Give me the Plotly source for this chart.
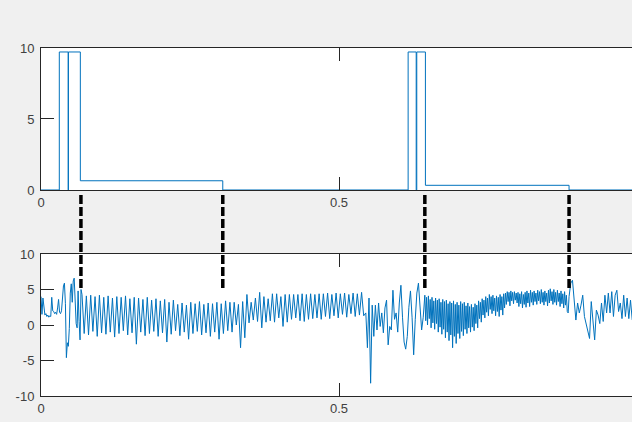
import numpy as np
import plotly.graph_objects as go

# top panel: stimulus (step signal)
stim_t = [0, 0.0307, 0.0456, 0.0460, 0.066, 0.305, 0.616, 0.6295, 0.6305, 0.645, 0.886, 0.992]
stim_v = [0, 9.72, 0, 9.72, 0.65, 0, 9.72, 0, 9.72, 0.33, 0, 0]

# times of the dashed event markers
event_t = [0.067, 0.305, 0.644, 0.886]
event_low = 5.2  # where the markers stop in the lower panel

# tick labels (MATLAB style, plain hyphen minus)
x_ticks = [0, 0.5]
x_labels = ['0', '0.5']
top_yticks = [0, 5, 10]
bot_yticks = [-10, -5, 0, 5, 10]
bot_ylabels = ['-10', '-5', '0', '5', '10']

seg_edges = [0, 0.0688, 0.317, 0.545, 0.644, 0.886, 0.992]

seg_a = [4.0, 1.5, 3.8, 2.5, 1.4, 1.6, 1.2, 1.4, 1.1, 1.3, 1.2, 3.9, 2.0, 1.9,
         1.6, 1.8, 1.5, 2.4, 3.6, 1.8, 1.6, 2.0, 4.8, 5.5, 5.9, 3.0, -4.6, -2.5,
         -3.0, -0.5, 4.5, 5.8, 3.2, 6.2, 6.6, 2.0, 0.2, -0.4, 4.8, 0.5, -2.1, 5.0]

seg_b = [4.3, -1.2, 4.1, -1.4, 4.2, -0.9, 4.0, -1.6, 4.2, -1.1, 3.9, -1.3,
         4.1, -1.0, 3.8, -1.7, 4.0, -1.2, 3.9, -0.8, 4.1, -1.4, 3.7, -1.1,
         3.9, -2.7, 3.8, -1.0, 3.6, -1.5, 3.9, -1.2, 3.5, -0.9, 3.7, -1.6,
         3.4, -1.1, 3.6, -2.4, 3.2, -1.3, 3.5, -0.8, 2.9, -1.5, 3.1, -1.0,
         2.8, -2.0, 3.2, -1.2, 3.0, -0.9, 3.3, -1.4, 2.9, -1.1, 3.1, -1.6,
         3.0, -1.0, 3.2, -2.0, 3.0, -1.2, 3.4, -0.8]

seg_c = [3.2, -1.0, 3.2, 0.0, 2.9, -3.2, 3.3, -1.8, 4.3, 0.3, 3.2, 0.7,
         3.8, 0.5, 4.6, -0.4, 4.0, 0.4, 3.7, 0.6, 4.4, 0.4, 4.4, 1.0,
         4.0, -0.2, 4.3, 0.4, 4.3, 0.8, 4.3, 1.0, 4.3, 0.6, 4.4, 0.5,
         4.3, 0.8, 4.4, 0.9, 4.3, 1.0, 4.4, 0.8, 4.4, 1.2, 4.5, 0.9,
         4.3, 1.3, 4.5, 1.0, 4.4, 1.5, 4.5, 1.1, 4.3, 1.6, 4.5, 1.2,
         4.4, 1.4, 4.6, 1.3]

seg_d = [1.7, -3.2, 3.8, -8.2, 2.8, -1.6, 2.8, -0.7, 3.1, -0.2, 1.7, -1.1,
         2.4, 3.5, -2.8, -0.2, -0.7, 4.9, 0.8, 1.7, -1.0, 3.1, 5.6, 1.1,
         -2.4, -3.4, -1.6, 2.5, 4.8, 1.1, -4.2, 0.8, 4.5, 5.9, 2.1, -0.7, 1.1]

seg_e = [4.2, 0.6, 3.9, 0.0, 4.1, 0.9, 3.6, -0.4, 3.9, 0.3, 3.4, -0.6,
         3.8, 0.2, 3.5, -1.0, 3.7, -0.3, 3.2, -1.3, 3.6, -0.6, 3.3, -1.8,
         3.5, -1.0, 3.0, -2.2, 3.3, -1.4, 3.1, -3.2, 3.4, -1.6, 2.9, -2.6,
         3.2, -1.2, 2.8, -1.9, 3.3, -0.9, 3.0, -1.5, 3.2, -0.6, 2.7, -1.2,
         3.1, -0.4, 2.6, -1.0, 2.9, -0.3, 2.5, -0.8, 3.0, 0.2, 2.8, -0.4,
         3.4, 0.9, 3.2, 0.4, 3.7, 1.4, 3.5, 1.0, 4.0, 1.8, 3.8, 1.3,
         4.3, 2.2, 4.0, 1.6, 4.2, 2.0, 3.8, 1.3, 4.1, 1.9, 3.9, 1.2,
         4.3, 2.1, 4.0, 1.4, 4.4, 2.4, 4.5, 2.9, 4.7, 3.3, 4.6, 2.7,
         4.8, 3.4, 4.6, 3.0, 4.7, 3.5, 4.5, 3.1, 4.6, 2.6, 4.4, 3.0,
         4.7, 2.4, 4.3, 2.9, 4.6, 2.5, 4.8, 3.1, 4.5, 2.6, 4.9, 3.2,
         4.6, 2.8, 4.8, 3.3, 4.5, 2.9, 4.9, 3.4, 4.7, 3.0, 5.0, 3.2,
         4.6, 2.8, 4.8, 3.3, 4.5, 2.7, 4.9, 3.1, 5.1, 3.4, 4.7, 2.9,
         5.0, 3.2, 4.6, 2.8, 4.9, 3.3, 4.5, 2.6, 4.8, 3.0, 4.4, 2.4,
         4.7, 2.8, 4.2, 1.9, 1.7]

seg_f = [4.0, 5.9, 6.3, 3.1, 0.7, 3.1, 1.7, 2.8, 4.2, 1.2, 0.0, -0.9, -1.9,
         3.3, 0.0, -2.1, 2.1, 1.4, 0.2, 3.1, 0.5, 4.2, 1.7, 4.5, 1.7, 4.7,
         1.2, 4.2, 4.9, 1.9, 3.1, 0.9, 4.2, 1.2, 3.8, 0.9, 3.5, 0.7]

segments = [seg_a, seg_b, seg_c, seg_d, seg_e, seg_f]
resp_t, resp_v = [], []
for i, seg in enumerate(segments):
    last = i == len(segments) - 1
    resp_t += list(np.linspace(seg_edges[i], seg_edges[i + 1], len(seg), endpoint=last))
    resp_v += seg

blue = '#0072BD'
dark = '#262626'
top_dom = [0.592, 1.0]
bot_dom = [0.0, 0.408]
xmax = 0.9916

fig = go.Figure()
fig.add_trace(go.Scatter(x=stim_t, y=stim_v, mode='lines', line_shape='hv',
                         line=dict(color=blue, width=1), xaxis='x', yaxis='y'))
fig.add_trace(go.Scatter(x=resp_t, y=resp_v, mode='lines',
                         line=dict(color=blue, width=1), xaxis='x2', yaxis='y2'))

# dashed markers spanning the gap between the two panels
y_low = bot_dom[0] + (event_low + 10) / 20 * (bot_dom[1] - bot_dom[0])
for t in event_t:
    fig.add_shape(type='line', xref='x2', yref='paper', x0=t, x1=t,
                  y0=y_low, y1=top_dom[0] - 0.006,
                  line=dict(color='black', width=3.5, dash='9px,3px'))

axis_style = dict(showline=True, linecolor=dark, linewidth=1, ticks='inside',
                  ticklen=13, tickcolor=dark, tickwidth=1, showgrid=False,
                  zeroline=False, automargin=False,
                  tickfont=dict(family='Liberation Sans', size=13, color='#404040'))

fig.update_layout(
    width=632, height=422,
    margin=dict(l=41, r=0, t=48, b=26),
    paper_bgcolor='#f0f0f0', plot_bgcolor='white',
    showlegend=False,
    xaxis=dict(domain=[0, 1], range=[0, xmax], tickvals=x_ticks, ticktext=x_labels,
               mirror='ticks', anchor='y', **axis_style),
    yaxis=dict(domain=top_dom, range=[0, 10], tickvals=top_yticks,
               ticklabelstandoff=3, anchor='x', **axis_style),
    xaxis2=dict(domain=[0, 1], range=[0, xmax], tickvals=x_ticks, ticktext=x_labels,
                mirror='ticks', anchor='y2', **axis_style),
    yaxis2=dict(domain=bot_dom, range=[-10, 10], tickvals=bot_yticks, ticktext=bot_ylabels,
                ticklabelstandoff=3, anchor='x2', **axis_style),
)

fig.write_html("out.html", config={'displayModeBar': False},
               post_script="document.body.style.margin='0';")
